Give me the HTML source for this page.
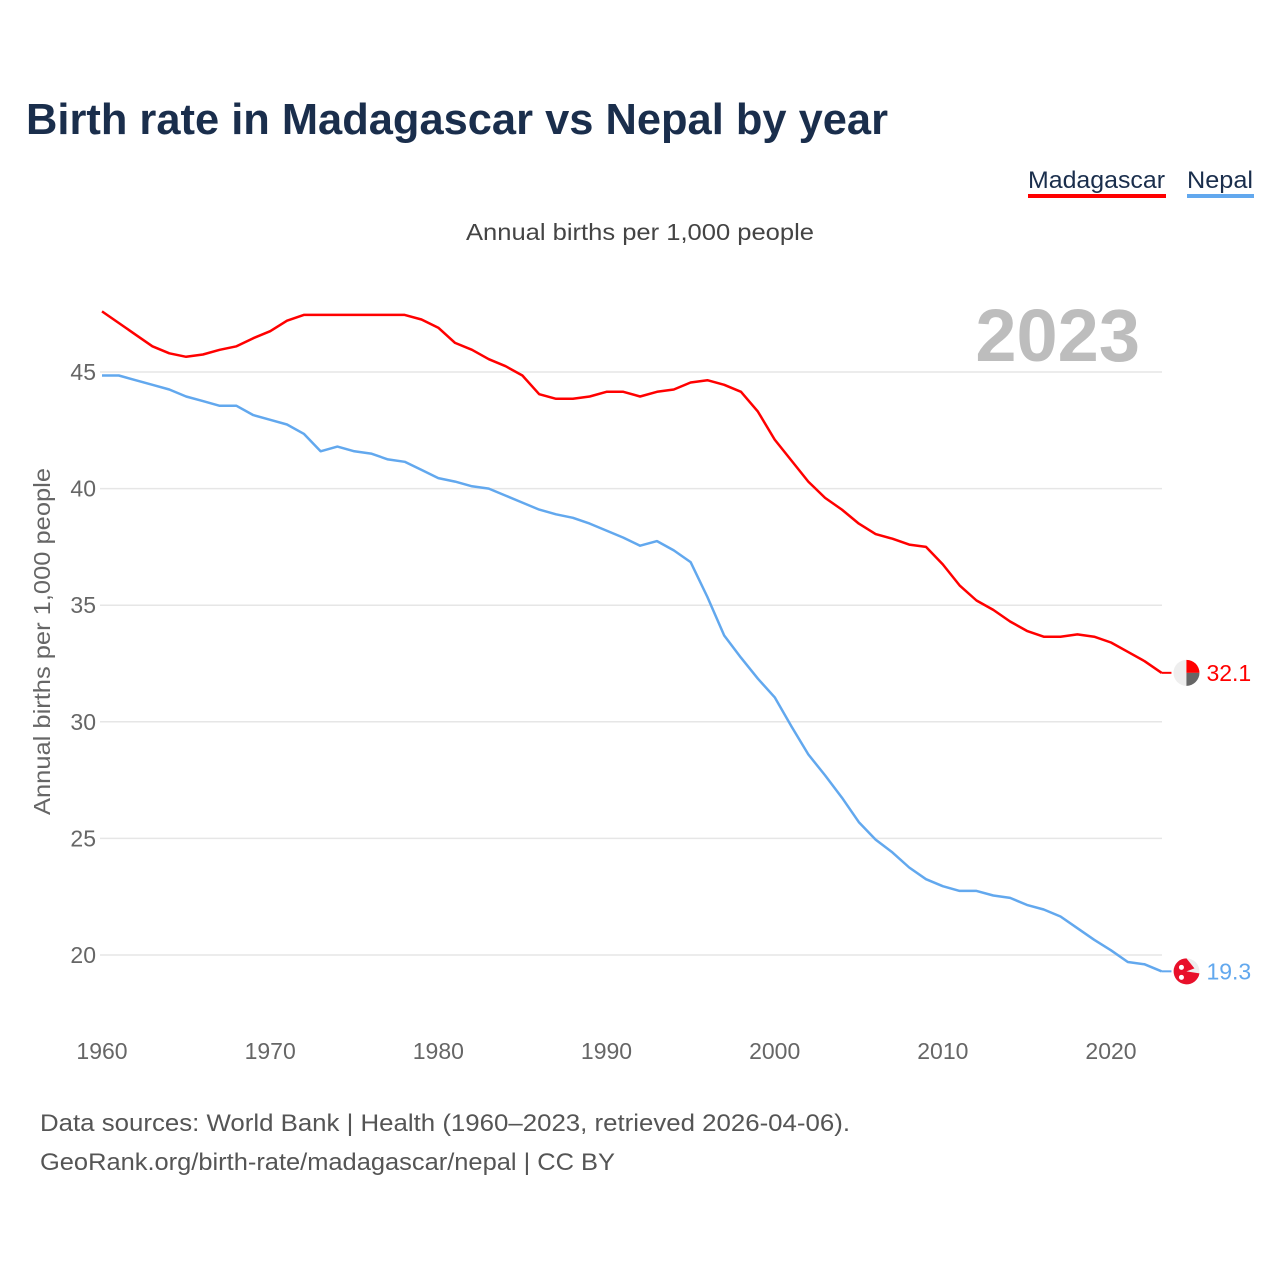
<!DOCTYPE html>
<html><head><meta charset="utf-8">
<style>
body{margin:0;background:#fff;}
svg text{font-family:"Liberation Sans",sans-serif;}
</style></head>
<body>
<svg id="chart" width="1280" height="1280" viewBox="0 0 1280 1280" xmlns="http://www.w3.org/2000/svg">
<rect width="1280" height="1280" fill="#fff"/>
<text x="26" y="134" font-size="44" font-weight="bold" fill="#1a2e4c" textLength="862" lengthAdjust="spacingAndGlyphs">Birth rate in Madagascar vs Nepal by year</text>
<g>
<text x="1028" y="188" font-size="24" fill="#1a2e4c" textLength="137" lengthAdjust="spacingAndGlyphs">Madagascar</text>
<rect x="1028" y="194" width="138" height="4" fill="#ff0000"/>
<text x="1187" y="188" font-size="24" fill="#1a2e4c" textLength="66" lengthAdjust="spacingAndGlyphs">Nepal</text>
<rect x="1187" y="194" width="67" height="4" fill="#62a8ee"/>
</g>
<text x="466" y="240" font-size="23" fill="#444" textLength="348" lengthAdjust="spacingAndGlyphs">Annual births per 1,000 people</text>
<text x="1140" y="361" font-size="74" font-weight="bold" fill="#bdbdbd" text-anchor="end">2023</text>
<text transform="translate(50,815) rotate(-90)" font-size="23" fill="#666" textLength="347" lengthAdjust="spacingAndGlyphs">Annual births per 1,000 people</text>
<g id="grid"></g>
<g id="lines"></g>
<text x="40" y="1131" font-size="24" fill="#555" textLength="810" lengthAdjust="spacingAndGlyphs">Data sources: World Bank | Health (1960–2023, retrieved 2026-04-06).</text>
<text x="40" y="1170" font-size="24" fill="#555" textLength="575" lengthAdjust="spacingAndGlyphs">GeoRank.org/birth-rate/madagascar/nepal | CC BY</text>
</svg>
<script>
const years=[];for(let y=1960;y<=2023;y++)years.push(y);
const madagascar=[47.6,47.1,46.6,46.1,45.8,45.65,45.75,45.95,46.1,46.45,46.75,47.2,47.45,47.45,47.45,47.45,47.45,47.45,47.45,47.25,46.9,46.25,45.95,45.55,45.25,44.85,44.05,43.85,43.85,43.95,44.15,44.15,43.95,44.15,44.25,44.55,44.65,44.45,44.15,43.3,42.1,41.2,40.3,39.6,39.1,38.5,38.05,37.85,37.6,37.5,36.75,35.85,35.2,34.8,34.3,33.9,33.65,33.65,33.75,33.65,33.4,33.0,32.6,32.1];
const nepal=[44.85,44.85,44.65,44.45,44.25,43.95,43.75,43.55,43.55,43.15,42.95,42.75,42.35,41.6,41.8,41.6,41.5,41.25,41.15,40.8,40.45,40.3,40.1,40.0,39.7,39.4,39.1,38.9,38.75,38.5,38.2,37.9,37.55,37.75,37.35,36.85,35.35,33.7,32.75,31.85,31.05,29.8,28.6,27.7,26.75,25.7,24.95,24.4,23.75,23.25,22.95,22.75,22.75,22.55,22.45,22.15,21.95,21.65,21.15,20.65,20.2,19.7,19.6,19.3];
const yTicks=[20,25,30,35,40,45];
const xTicks=[1960,1970,1980,1990,2000,2010,2020];
const NS="http://www.w3.org/2000/svg";
const xs=y=>102+(y-1960)*(1009/60);
const ys=v=>372+(45-v)*(583/25);
const grid=document.getElementById('grid'),lines=document.getElementById('lines');
function mk(tag,attrs,parent){const e=document.createElementNS(NS,tag);for(const k in attrs)e.setAttribute(k,attrs[k]);parent.appendChild(e);return e;}
yTicks.forEach(t=>{
 const l=mk('line',{x1:100,x2:1162,y1:ys(t),y2:ys(t),stroke:'#e6e6e6','stroke-width':1.5},grid);
 
 
 const tx=mk('text',{x:96,y:ys(t)+8,'font-size':23,fill:'#666','text-anchor':'end'},grid);
 tx.textContent=t;
 
 
});
xTicks.forEach(t=>{
 const tx=mk('text',{x:xs(t),y:1059,'font-size':23,fill:'#666','text-anchor':'middle'},grid);
 tx.textContent=t;
 
 
});
function series(vals,color,name,label){
 const d=vals.map((v,i)=>(i?'L':'M')+xs(years[i]).toFixed(1)+','+ys(v).toFixed(1)).join('');
 const p=mk('path',{d:d,fill:'none',stroke:color,'stroke-width':2.5,'stroke-linejoin':'round'},lines);
 
 
 const lx=xs(years[years.length-1]),ly=ys(vals[vals.length-1]);
 const g=mk('g',{},lines);
 
 
 mk('line',{x1:lx,x2:lx+10,y1:ly,y2:ly,stroke:color,'stroke-width':2},g);
 if(name==='madagascar'){
  mk('circle',{cx:lx+25,cy:ly,r:13,fill:'#eee'},g);
  mk('path',{d:`M${lx+25},${ly}V${ly-13}A13,13 0 0 1 ${lx+38},${ly}Z`,fill:'#ff0000'},g);
  mk('path',{d:`M${lx+25},${ly}H${lx+38}A13,13 0 0 1 ${lx+25},${ly+13}Z`,fill:'#666'},g);
 }else{
  mk('circle',{cx:lx+25,cy:ly,r:13,fill:'#eee'},g);
  mk('path',{d:`M${lx+25},${ly}L${lx+38},${ly+2}A13,13 0 1 1 ${lx+25},${ly-13}L${lx+33},${ly-3}Z`,fill:'#e8102a'},g);
  mk('circle',{cx:lx+20,cy:ly-4,r:2.5,fill:'#fff'},g);
  mk('circle',{cx:lx+20,cy:ly+6,r:2.5,fill:'#fff'},g);
 }
 const t=mk('text',{x:lx+45,y:ly+8,'font-size':23,fill:color},g);
 t.textContent=label;
 
 
}
series(madagascar,'#ff0000','madagascar',madagascar[madagascar.length-1].toFixed(1));
series(nepal,'#62a8ee','nepal',nepal[nepal.length-1].toFixed(1));
</script>
</body></html>
